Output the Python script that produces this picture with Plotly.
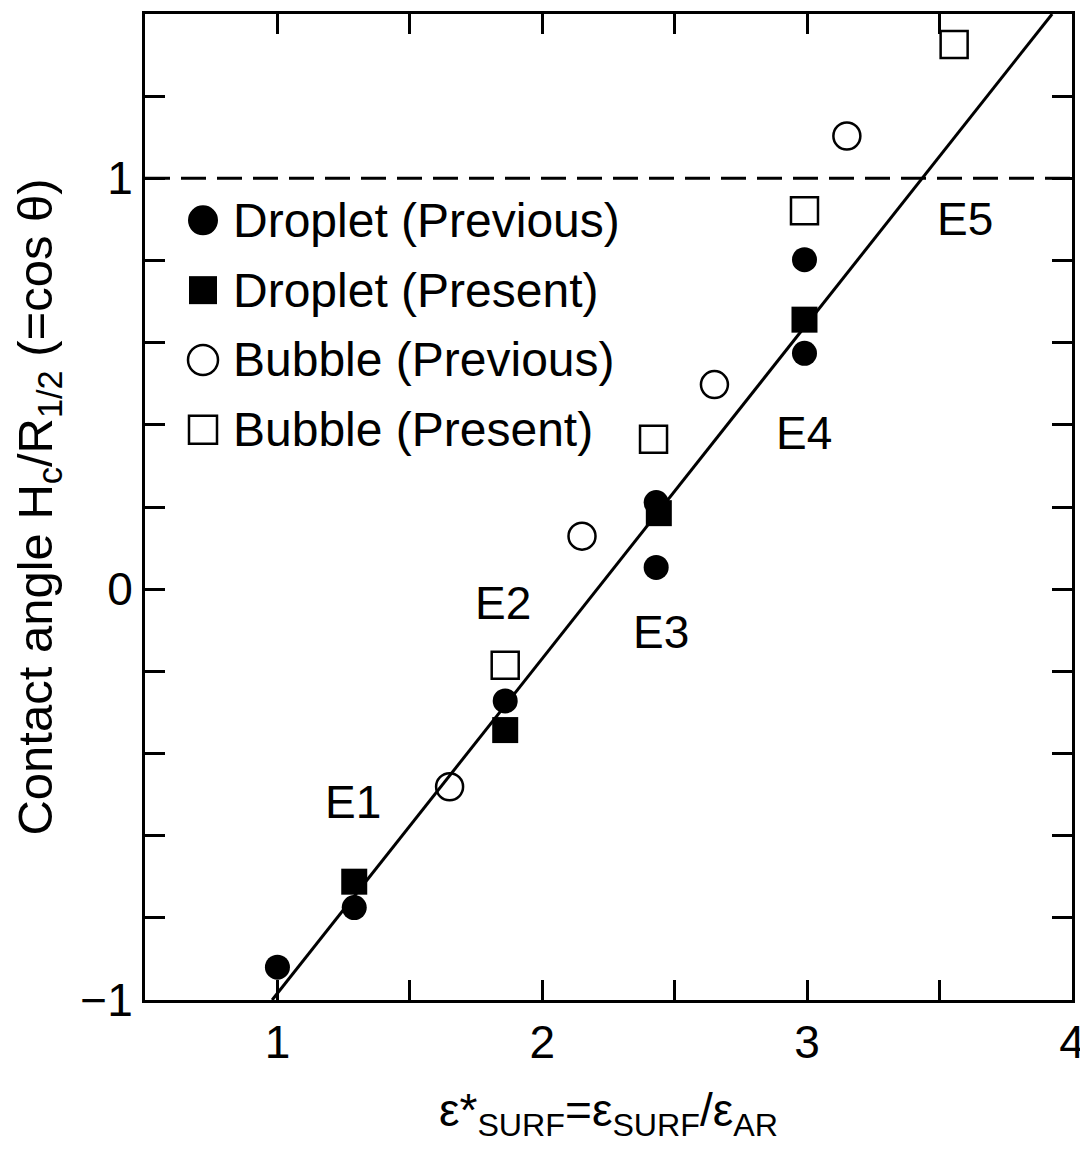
import plotly.graph_objects as go

# ---- data ----
drop_prev_x = [1.00, 1.29, 1.86, 2.43, 2.43, 2.99, 2.99]
drop_prev_y = [-0.92, -0.775, -0.272, 0.211, 0.053, 0.802, 0.574]

drop_pres_x = [1.29, 1.86, 2.44, 2.99]
drop_pres_y = [-0.712, -0.343, 0.185, 0.656]

bub_prev_x = [1.65, 2.15, 2.65, 3.15]
bub_prev_y = [-0.481, 0.129, 0.498, 1.103]

bub_pres_x = [1.86, 2.42, 2.99, 3.555]
bub_pres_y = [-0.185, 0.365, 0.921, 1.326]

fit_x = [0.98, 3.925]
fit_y = [-1.0, 1.4]

ref_level = 1.0

label_text = ["E1", "E2", "E3", "E4", "E5"]
label_x = [1.285, 1.85, 2.45, 2.99, 3.595]
label_y = [-0.518, -0.034, -0.104, 0.379, 0.90]

legend_names = ["Droplet (Previous)", "Droplet (Present)", "Bubble (Previous)", "Bubble (Present)"]
legend_symbols = ["circle", "square", "circle-open", "square-open"]

x_range = [0.5, 4.0]
y_range = [-1.0, 1.4]

FONT = "Liberation Sans, Arial, Helvetica, sans-serif"

# page geometry (the html body adds an 8px margin)
FIG_W, FIG_H = 1080, 1135
M_L, M_R, M_T, M_B = 137, 16, 3, 143
PLOT_W = FIG_W - M_L - M_R
PLOT_H = FIG_H - M_T - M_B

fig = go.Figure()

fig.add_trace(go.Scatter(
    x=fit_x, y=fit_y, mode="lines", line=dict(color="black", width=3),
    showlegend=False, hoverinfo="skip"))

series = [
    (drop_prev_x, drop_prev_y, dict(symbol="circle", size=25, color="black", line=dict(width=0))),
    (drop_pres_x, drop_pres_y, dict(symbol="square", size=26, color="black", line=dict(width=0))),
    (bub_prev_x, bub_prev_y, dict(symbol="circle-open", size=27, color="black", line=dict(width=2.5, color="black"))),
    (bub_pres_x, bub_pres_y, dict(symbol="square-open", size=27, color="black", line=dict(width=2.5, color="black"))),
]
for (sx, sy, mk), name in zip(series, legend_names):
    fig.add_trace(go.Scatter(x=sx, y=sy, mode="markers", name=name, marker=mk,
                             showlegend=False))

fig.add_shape(type="line", xref="paper", x0=0, x1=1, yref="y", y0=ref_level, y1=ref_level,
              line=dict(color="black", width=3, dash="25px,11px"))

for t, lx, ly in zip(label_text, label_x, label_y):
    fig.add_annotation(x=lx, y=ly, text=t, showarrow=False,
                       font=dict(size=46, color="black", family=FONT))

# ---- legend (drawn in the top-left corner of the plot area) ----
LEG_SYM_PX = 58      # symbol centre, px from the plot's left edge
LEG_TXT_PX = 86      # text start, px from the plot's left edge
LEG_ROW0_PX = 207    # first row centre, px below the plot's top edge
LEG_STEP_PX = 70
LEG_SYM_R = 15
for i, (name, sym) in enumerate(zip(legend_names, legend_symbols)):
    yc = 1 - (LEG_ROW0_PX + i * LEG_STEP_PX) / PLOT_H
    xc = LEG_SYM_PX / PLOT_W
    filled = not sym.endswith("open")
    r = LEG_SYM_R if sym.startswith("circle") else 14
    fig.add_shape(
        type="circle" if sym.startswith("circle") else "rect",
        xref="paper", yref="paper", xsizemode="pixel", ysizemode="pixel",
        xanchor=xc, yanchor=yc, x0=-r, x1=r, y0=-r, y1=r,
        fillcolor="black" if filled else "rgba(0,0,0,0)",
        line=dict(color="black", width=0 if filled else 2.5))
    fig.add_annotation(xref="paper", yref="paper", x=LEG_TXT_PX / PLOT_W, y=yc,
                       xanchor="left", yanchor="middle", text=name, showarrow=False,
                       font=dict(size=48, color="black", family=FONT))

axis_common = dict(
    showline=True, linewidth=3, linecolor="black", mirror="ticks",
    ticks="inside", ticklen=20, tickwidth=2.5, tickcolor="black",
    showgrid=False, zeroline=False, ticklabeloverflow="allow",
    tickfont=dict(size=46, color="black", family=FONT),
)

fig.update_xaxes(
    range=x_range, tick0=0, dtick=1,
    minor=dict(dtick=0.5, ticks="inside", ticklen=20, tickwidth=2.5, tickcolor="black", showgrid=False),
    title=dict(text="ε*<sub>SURF</sub>=ε<sub>SURF</sub>/ε<sub>AR</sub>",
               font=dict(size=46, color="black", family=FONT), standoff=28),
    **axis_common)
fig.update_yaxes(
    range=y_range, tick0=0, dtick=1,
    minor=dict(dtick=0.2, ticks="inside", ticklen=20, tickwidth=2.5, tickcolor="black", showgrid=False),
    title=dict(text="Contact angle H<sub>c</sub>/R<sub>1/2</sub> (=cos θ)",
               font=dict(size=49, color="black", family=FONT), standoff=18),
    **axis_common)

fig.update_layout(
    width=FIG_W, height=FIG_H,
    margin=dict(l=M_L, r=M_R, t=M_T, b=M_B),
    plot_bgcolor="white", paper_bgcolor="white",
    font=dict(family=FONT, color="black"),
    showlegend=False,
)

fig.write_html("out.html")
